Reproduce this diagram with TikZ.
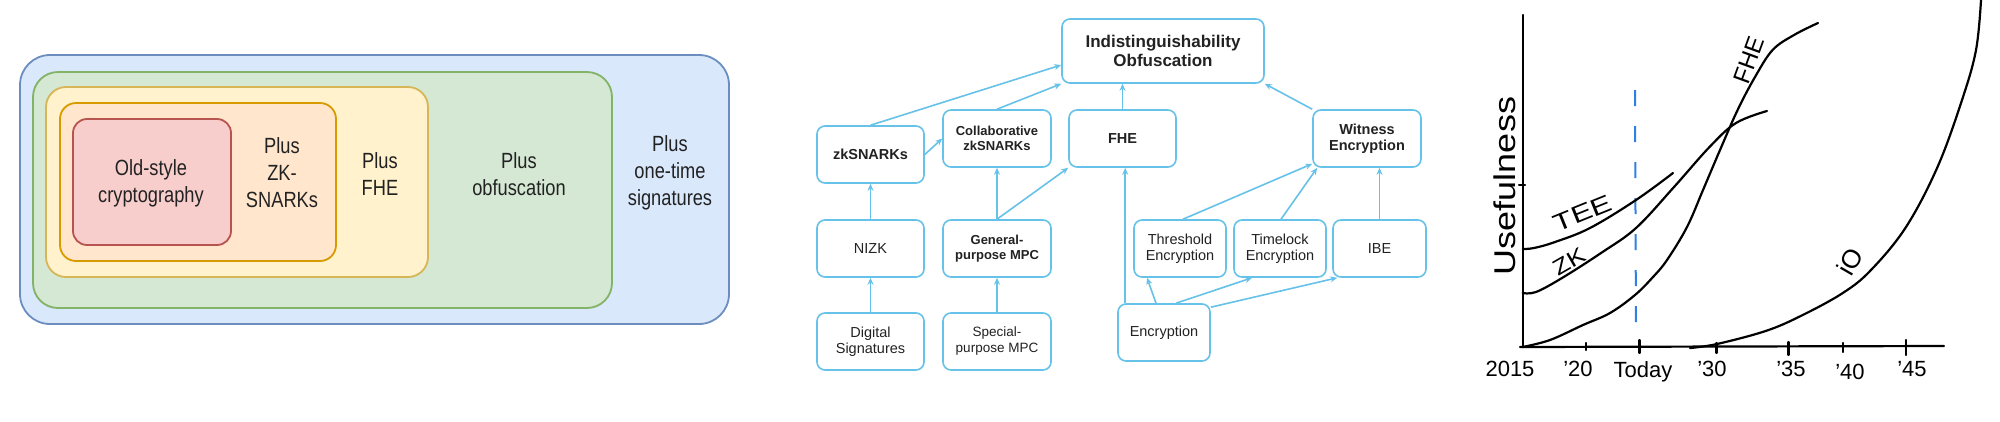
\documentclass[tikz,border=0pt]{standalone}
\usepackage{fontspec}
\setmainfont{Liberation Sans}
\usetikzlibrary{arrows.meta,calc}
\definecolor{bfill}{HTML}{DAE8FC}\definecolor{bdraw}{HTML}{6C8EBF}
\definecolor{gfill}{HTML}{D5E8D4}\definecolor{gdraw}{HTML}{82B366}
\definecolor{yfill}{HTML}{FFF2CC}\definecolor{ydraw}{HTML}{D6B656}
\definecolor{ofill}{HTML}{FFE6CC}\definecolor{odraw}{HTML}{D79B00}
\definecolor{rfill}{HTML}{F8CECC}\definecolor{rdraw}{HTML}{B85450}
\definecolor{mblue}{HTML}{66C2E8}
\definecolor{txt}{HTML}{222222}
\definecolor{todayblue}{HTML}{2F80E0}
\tikzset{
  setbox/.style={line width=1.8pt},
  lefttxt/.style={align=center, text=txt, xscale=0.83, transform shape, inner sep=0pt,
    font=\fontsize{22}{27}\selectfont},
  mbox/.style={draw=mblue, line width=1.6pt, rounded corners=8pt, fill=white, align=center,
    inner sep=0pt, text=txt, font=\fontsize{14.5}{16.5}\selectfont},
  bbox/.style={mbox, font=\fontsize{14.5}{16.5}\selectfont\bfseries},
  marrow/.style={draw=mblue, line width=1.6pt, -{Stealth[length=7pt,width=6pt]}},
  curve/.style={line width=2.2pt, black, line cap=round, line join=round},
  hand/.style={text=black, inner sep=0pt, font=\fontsize{22}{22}\selectfont}
}
\begin{document}
\begin{tikzpicture}[x=1pt,y=-1pt]
\useasboundingbox (0,0) rectangle (2000,421);
\fill[white] (0,0) rectangle (2000,421);
% ---------- left panel ----------
\draw[setbox, draw=bdraw, fill=bfill, rounded corners=30pt] (20,55) rectangle (729,324);
\draw[setbox, draw=gdraw, fill=gfill, rounded corners=25pt] (33,72) rectangle (612,308);
\draw[setbox, draw=ydraw, fill=yfill, rounded corners=20pt] (46,87) rectangle (428,277);
\draw[setbox, draw=odraw, fill=ofill, rounded corners=16pt] (60,103) rectangle (336,261);
\draw[setbox, draw=rdraw, fill=rfill, rounded corners=14pt] (73,119) rectangle (231,245);
\node[lefttxt] (old) at (151,183) {Old-style\\cryptography};
\node[lefttxt] (zk) at (282,173) {Plus\\ZK-\\SNARKs};
\node[lefttxt] (fheL) at (380,174) {Plus\\FHE};
\node[lefttxt] (obf) at (519,174) {Plus\\obfuscation};
\node[lefttxt] (ots) at (670,173) {Plus\\one-time\\signatures};
% ---------- middle panel ----------
\node[bbox, minimum width=202pt, minimum height=64pt, font=\fontsize{17}{19}\selectfont\bfseries] (io) at (1163,51) {Indistinguishability\\Obfuscation};
\node[bbox, minimum width=107pt, minimum height=57pt] (zks) at (870.5,154.5) {zkSNARKs};
\node[bbox, minimum width=108pt, minimum height=57pt, font=\fontsize{13}{15}\selectfont\bfseries] (collab) at (997,138.5) {Collaborative\\zkSNARKs};
\node[bbox, minimum width=107pt, minimum height=57pt] (fhe) at (1122.5,138.5) {FHE};
\node[bbox, minimum width=108pt, minimum height=57pt] (wit) at (1367,138.5) {Witness\\Encryption};
\node[mbox, minimum width=107pt, minimum height=57pt] (nizk) at (870.5,248.5) {NIZK};
\node[bbox, minimum width=108pt, minimum height=57pt, font=\fontsize{13}{15.5}\selectfont\bfseries] (gmpc) at (997,248.5) {General-\\purpose MPC};
\node[mbox, minimum width=92pt, minimum height=57pt] (thr) at (1180,248.5) {Threshold\\Encryption};
\node[mbox, minimum width=92pt, minimum height=57pt] (tl) at (1280,248.5) {Timelock\\Encryption};
\node[mbox, minimum width=93pt, minimum height=57pt] (ibe) at (1379.5,248.5) {IBE};
\node[mbox, minimum width=107pt, minimum height=57pt] (ds) at (870.5,341.5) {Digital\\Signatures};
\node[mbox, minimum width=108pt, minimum height=57pt, font=\fontsize{13.5}{16}\selectfont] (smpc) at (997,341.5) {Special-\\purpose MPC};
\node[mbox, minimum width=92pt, minimum height=57pt] (enc) at (1164,332.5) {Encryption};
\draw[marrow] (zks.north) -- ([yshift=-14pt]io.west);
\draw[marrow] (collab.north) -- (io.south west);
\draw[marrow] (zks.east) -- (collab.west);
\draw[marrow] (fhe.north) -- (fhe.north |- io.south);
\draw[marrow] (wit.north west) -- (io.south east);
\draw[marrow] (nizk.north) -- (zks.south);
\draw[marrow] (gmpc.north) -- (collab.south);
\draw[marrow] (gmpc.north) -- (fhe.south west);
\draw[marrow] (ds.north) -- (nizk.south);
\draw[marrow] (smpc.north) -- (gmpc.south);
\draw[marrow] ([xshift=8pt]enc.north west) -- ([xshift=8pt]enc.north west |- fhe.south);
\draw[marrow] ([xshift=3pt]thr.north) -- ([yshift=4pt]wit.south west);
\draw[marrow] ([xshift=1pt]tl.north) -- ([xshift=5pt]wit.south west);
\draw[marrow] (ibe.north) -- (ibe.north |- wit.south);
\draw[marrow] ([xshift=-8pt]enc.north) -- ([xshift=-33pt]thr.south);
\draw[marrow] ([xshift=12pt]enc.north) -- ([xshift=-28pt]tl.south);
\draw[marrow] ([yshift=-4pt]enc.north east) -- ([xshift=5pt]ibe.south west);
% ---------- right panel (hand-drawn chart) ----------
\draw[curve] (1522.6,15) -- (1522.6,347);
\draw[curve] (1520,347) -- (1944,346);
\draw[curve] (1519,185) -- (1525,185);
\foreach \tx/\ta/\tb in {1585.7/343/350, 1639.4/340/353, 1716.5/343/353, 1788.4/342/355, 1842.8/343/352, 1905.9/340/355}
  \draw[curve] (\tx,\ta) -- (\tx,\tb);
\draw[todayblue, line width=2pt, dash pattern=on 16pt off 20pt] (1635,90) -- (1636,340);
\draw[curve] plot[smooth, tension=0.6] coordinates {(1522.6,249) (1534,248) (1555,242) (1590,228) (1636,200) (1673,173)};
\draw[curve] plot[smooth, tension=0.6] coordinates {(1522.6,293) (1536,292) (1562,278) (1601,253) (1636,228) (1674,187) (1709.5,147) (1736,123) (1767,111)};
\draw[curve] plot[smooth, tension=0.6] coordinates {(1522.6,347) (1550,340) (1583,325) (1610,313) (1635,295) (1653,277) (1667,260) (1687,227) (1703,190) (1720,150) (1737.6,110) (1755,77) (1772.6,50) (1794,35) (1818,23)};
\draw[curve] plot[smooth, tension=0.6] coordinates {(1690,348) (1717,344) (1765.6,331) (1800.7,316) (1842.8,293) (1871,270) (1906,227) (1937.5,167) (1962,100) (1976,50) (1981,0)};
\node[hand, rotate=90, font=\fontsize{30}{30}\selectfont] (useful) at (1505,186) {\scalebox{1.2}[1]{Usefulness}};
\node[hand, rotate=22, font=\fontsize{24}{24}\selectfont] (tee) at (1583,213) {\scalebox{1.3}[1]{TEE}};
\node[hand, rotate=30] (zkl) at (1569,262) {\scalebox{1.2}[1]{ZK}};
\node[hand, rotate=70, font=\fontsize{24}{24}\selectfont] (fhel) at (1749,60) {FHE};
\node[hand, rotate=60, font=\fontsize{26}{26}\selectfont] (iol) at (1850,262) {iO};
\node[hand] (y15) at (1510,369) {2015};
\node[hand] (y20) at (1578,369) {’20};
\node[hand] (today) at (1643,372) {Today};
\node[hand] (y30) at (1712,369) {’30};
\node[hand] (y35) at (1791,369) {’35};
\node[hand] (y40) at (1850,372) {’40};
\node[hand] (y45) at (1912,369) {’45};
\end{tikzpicture}
\end{document}
